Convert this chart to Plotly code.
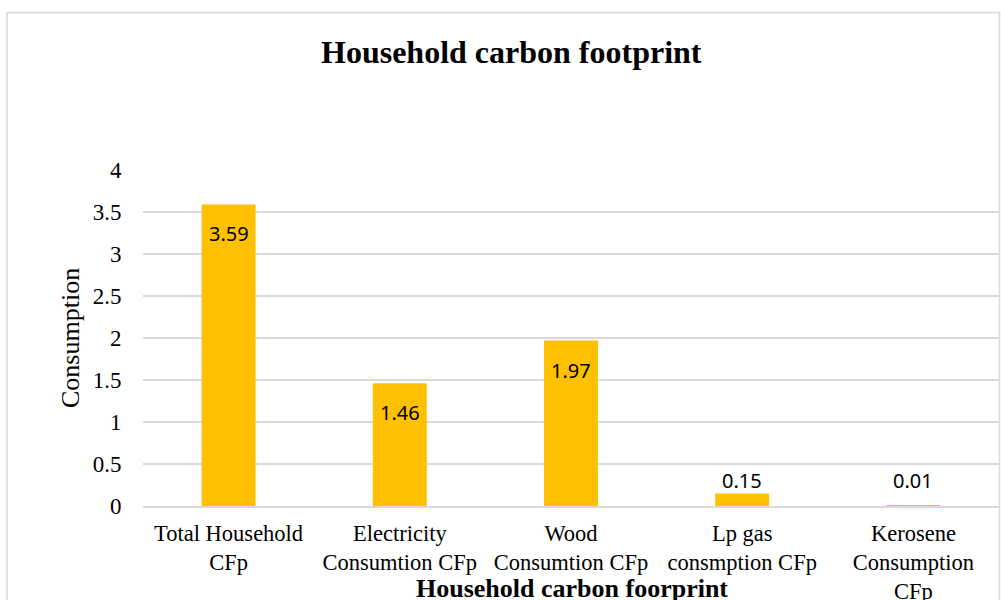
import plotly.graph_objects as go

categories = ["Total Household<br>CFp", "Electricity<br>Consumtion CFp", "Wood<br>Consumtion CFp",
              "Lp gas<br>consmption CFp", "Kerosene<br>Consumption<br>CFp"]
values = [3.59, 1.46, 1.97, 0.15, 0.01]
labels = ["3.59", "1.46", "1.97", "0.15", "0.01"]
y_ticks = [0, 0.5, 1, 1.5, 2, 2.5, 3, 3.5, 4]
y_tick_text = ["0", "0.5", "1", "1.5", "2", "2.5", "3", "3.5", "4"]

SERIF = "Liberation Serif"
SANS = "Noto Sans"
GRID = "#d9d9d9"
BAR = "#FFC000"

W, H = 1001, 600
L, R, T, B = 143, 2, 170, 94
pw, ph = W - L - R, H - T - B

fig = go.Figure(go.Bar(x=categories, y=values, marker=dict(color=BAR, line=dict(width=0)),
                       hoverinfo="skip"))

annotations = []
INSIDE_MIN = 1.0
LABEL_FLOOR = 0.15
for c, v, t in zip(categories, values, labels):
    if v >= INSIDE_MIN:
        annotations.append(dict(x=c, y=v, text=t, showarrow=False, yanchor="top", yshift=-14,
                                font=dict(family=SANS, size=20, color="#000")))
    else:
        annotations.append(dict(x=c, y=max(v, LABEL_FLOOR), text=t, showarrow=False,
                                yanchor="bottom", yshift=-3,
                                font=dict(family=SANS, size=20, color="#000")))

# titles
annotations.append(dict(xref="paper", yref="paper", x=(511.5 - L) / pw, y=((H - B) - 52) / ph,
                        text="<b>Household carbon footprint</b>", showarrow=False,
                        xanchor="center", yanchor="middle",
                        font=dict(family=SERIF, size=32, color="#000")))
annotations.append(dict(xref="paper", yref="paper", x=(571.5 - L) / pw, y=-(588 - (H - B)) / ph,
                        text="<b>Household carbon foorprint</b>", showarrow=False,
                        xanchor="center", yanchor="middle",
                        font=dict(family=SERIF, size=26, color="#000")))
annotations.append(dict(xref="paper", yref="paper", x=(70 - L) / pw, y=0.5,
                        text="Consumption", showarrow=False, textangle=-90,
                        xanchor="center", yanchor="middle",
                        font=dict(family=SERIF, size=26, color="#000")))

fig.update_layout(
    width=W, height=H,
    margin=dict(l=L, r=R, t=T, b=B, autoexpand=False),
    paper_bgcolor="white", plot_bgcolor="white",
    bargap=0.685,
    showlegend=False,
    annotations=annotations,
    shapes=[dict(type="rect", xref="paper", yref="paper",
                 x0=(7 - L) / pw, x1=(999.5 - L) / pw,
                 y0=-(620 - (H - B)) / ph, y1=((H - B) - 12.5) / ph,
                 line=dict(color=GRID, width=1.5), layer="below")],
    xaxis=dict(showgrid=False, showline=True, linecolor=GRID, linewidth=1.5,
               ticks="outside", ticklen=6, tickcolor="rgba(0,0,0,0)",
               tickfont=dict(family=SERIF, size=22.5, color="#000"), fixedrange=True),
    yaxis=dict(range=[0, 4], tickvals=y_ticks, ticktext=y_tick_text,
               showgrid=True, gridcolor=GRID, gridwidth=1.5, zeroline=False, showline=False,
               ticks="outside", ticklen=16, tickcolor="rgba(0,0,0,0)",
               tickfont=dict(family=SERIF, size=23, color="#000"), fixedrange=True),
)

fig.write_html("out.html")
